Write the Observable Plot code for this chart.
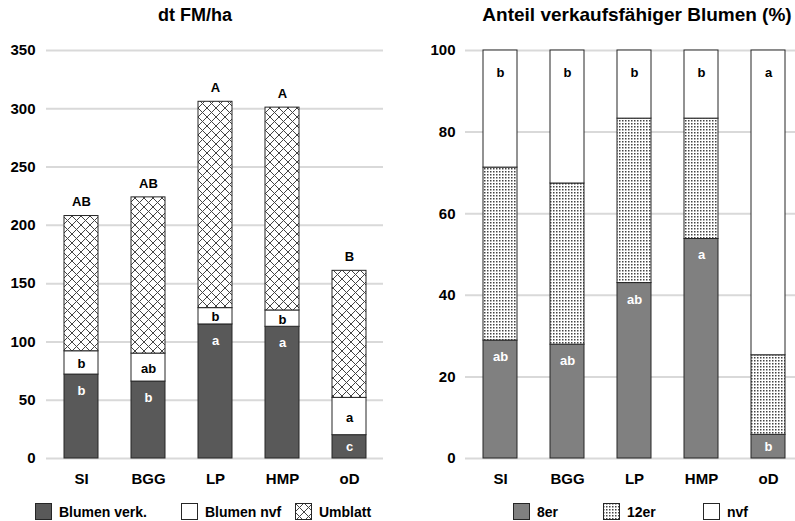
<!DOCTYPE html>
<html><head><meta charset="utf-8">
<script src="https://cdn.jsdelivr.net/npm/d3@7"></script>
<script src="https://cdn.jsdelivr.net/npm/@observablehq/plot@0.6"></script>
<style>
body{margin:0;width:795px;height:521px;overflow:hidden;background:#fff;font-family:"Liberation Sans",Arial,sans-serif;position:relative}
.title{position:absolute;top:4px;font-weight:bold;font-size:18px;white-space:nowrap;transform:translateX(-50%);line-height:22px}
.panel{position:absolute;top:0}
.panel svg{max-width:none !important}
.leg{position:absolute;top:503px;display:flex;align-items:center;font-weight:bold;font-size:14px;white-space:nowrap;height:17px}
.leg svg{margin-right:7px}
</style></head><body>
<svg width="0" height="0" style="position:absolute"><defs>
<pattern id="hatch" width="9" height="9" patternUnits="userSpaceOnUse"><rect width="9" height="9" fill="#fff"/><path d="M0,0L9,9M9,0L0,9" stroke="#444" stroke-width="1"/></pattern>
<pattern id="dots" width="3" height="3" patternUnits="userSpaceOnUse"><rect width="3" height="3" fill="#fff"/><rect width="1.5" height="1.5" fill="#444"/></pattern>
</defs></svg>
<div class="title" style="left:195px">dt FM/ha</div>
<div class="title" style="left:637px;font-size:19px">Anteil verkaufsfähiger Blumen (%)</div>
<div id="left" class="panel" style="left:0;width:400px"></div>
<div id="right" class="panel" style="left:400px;width:402px"></div>
<div id="legends"></div>
<script>
// ---- data ----
const categories = ["SI", "BGG", "LP", "HMP", "oD"];
// left panel: dt FM/ha
const blumenVerk = [72, 66, 115, 113, 20];
const blumenNvf = [20, 24, 14, 14, 32];
const umblatt = [116, 134, 177, 174, 109];
const totalLetters = ["AB", "AB", "A", "A", "B"];
const nvfLetters = ["b", "ab", "b", "b", "a"];
const verkLetters = ["b", "b", "a", "a", "c"];
const yTicksLeft = [0, 50, 100, 150, 200, 250, 300, 350];
// right panel: Anteil verkaufsfähiger Blumen (%)
const er8 = [28.9, 27.9, 43.0, 53.8, 5.8];
const er12 = [42.4, 39.5, 40.3, 29.5, 19.5];
const nvfPct = [28.7, 32.6, 16.7, 16.7, 74.7];
const er8Letters = ["ab", "ab", "ab", "a", "b"];
const nvfPctLetters = ["b", "b", "b", "b", "a"];
const yTicksRight = [0, 20, 40, 60, 80, 100];

const FONT = "Liberation Sans, Arial, sans-serif";

const left = categories.map((c, i) => {
  const a = blumenVerk[i], b = a + blumenNvf[i], t = b + umblatt[i];
  return {cat: c, a, b, t, tl: totalLetters[i], nl: nvfLetters[i], vl: verkLetters[i],
    vy: Math.max(a - 14, a / 2), ny: (a + b) / 2};
});
const right = categories.map((c, i) => {
  const a = er8[i], b = a + er12[i], t = b + nvfPct[i];
  return {cat: c, a, b, t, el: er8Letters[i], nl: nvfPctLetters[i], ey: Math.max(a - 4, a / 2)};
});

const stroke = "#262626";
const common = {
  height: 490, marginTop: 50, marginBottom: 32,
  style: {fontFamily: FONT, fontWeight: "bold", color: "#000", background: "transparent", overflow: "visible", maxWidth: "none"},
};

const leftPlot = Plot.plot({
  ...common, width: 400, marginLeft: 46, marginRight: 17,
  x: {domain: categories, paddingInner: 0.5, paddingOuter: 0.25},
  y: {domain: [0, 350]},
  marks: [
    Plot.ruleY(yTicksLeft, {stroke: "#d9d9d9", strokeWidth: 2}),
    Plot.barY(left, {x: "cat", y1: 0, y2: "a", fill: "#595959", stroke, strokeWidth: 1}),
    Plot.barY(left, {x: "cat", y1: "a", y2: "b", fill: "#fff", stroke, strokeWidth: 1}),
    Plot.barY(left, {x: "cat", y1: "b", y2: "t", fill: "url(#hatch)", stroke, strokeWidth: 1}),
    Plot.text(left, {x: "cat", y: "t", text: "tl", dy: -14, fontSize: 13, fontWeight: "bold", fill: "#000"}),
    Plot.text(left, {x: "cat", y: "ny", text: "nl", dy: 1, fontSize: 13, fontWeight: "bold", fill: "#000"}),
    Plot.text(left, {x: "cat", y: "vy", text: "vl", fontSize: 13, fontWeight: "bold", fill: "#fff"}),
    Plot.axisX({tickSize: 0, tickPadding: 15, fontSize: 15, fontWeight: "bold", label: null}),
    Plot.axisY(yTicksLeft, {tickSize: 0, tickPadding: 11, fontSize: 15, fontWeight: "bold", label: null})
  ]
});
document.getElementById("left").append(leftPlot);

const rightPlot = Plot.plot({
  ...common, width: 402, marginLeft: 65, marginRight: 0,
  x: {domain: categories, paddingInner: 0.5, paddingOuter: 0.25},
  y: {domain: [0, 100]},
  marks: [
    Plot.ruleY(yTicksRight, {stroke: "#d9d9d9", strokeWidth: 2}),
    Plot.barY(right, {x: "cat", y1: 0, y2: "a", fill: "#808080", stroke, strokeWidth: 1}),
    Plot.barY(right, {x: "cat", y1: "a", y2: "b", fill: "url(#dots)", stroke, strokeWidth: 1}),
    Plot.barY(right, {x: "cat", y1: "b", y2: "t", fill: "#fff", stroke, strokeWidth: 1}),
    Plot.text(right, {x: "cat", y: "t", text: "nl", dy: 22, fontSize: 13, fontWeight: "bold", fill: "#000"}),
    Plot.text(right, {x: "cat", y: "ey", text: "el", fontSize: 13, fontWeight: "bold", fill: "#fff"}),
    Plot.axisX({tickSize: 0, tickPadding: 15, fontSize: 15, fontWeight: "bold", label: null}),
    Plot.axisY(yTicksRight, {tickSize: 0, tickPadding: 10, fontSize: 15, fontWeight: "bold", label: null})
  ]
});
document.getElementById("right").append(rightPlot);

// legends
const legendItems = [
  {label: "Blumen verk.", fill: "#595959", x: 35},
  {label: "Blumen nvf", fill: "#fff", x: 181},
  {label: "Umblatt", fill: "url(#hatch)", x: 295},
  {label: "8er", fill: "#808080", x: 513},
  {label: "12er", fill: "url(#dots)", x: 603},
  {label: "nvf", fill: "#fff", x: 703}
];
const legendHost = document.getElementById("legends");
for (const it of legendItems) {
  const d = document.createElement("div");
  d.className = "leg";
  d.style.left = it.x + "px";
  d.innerHTML = `<svg width="17" height="17"><rect x="0.5" y="0.5" width="16" height="16" fill="${it.fill}" stroke="${stroke}"/></svg><span>${it.label}</span>`;
  legendHost.append(d);
}
</script>
</body></html>
